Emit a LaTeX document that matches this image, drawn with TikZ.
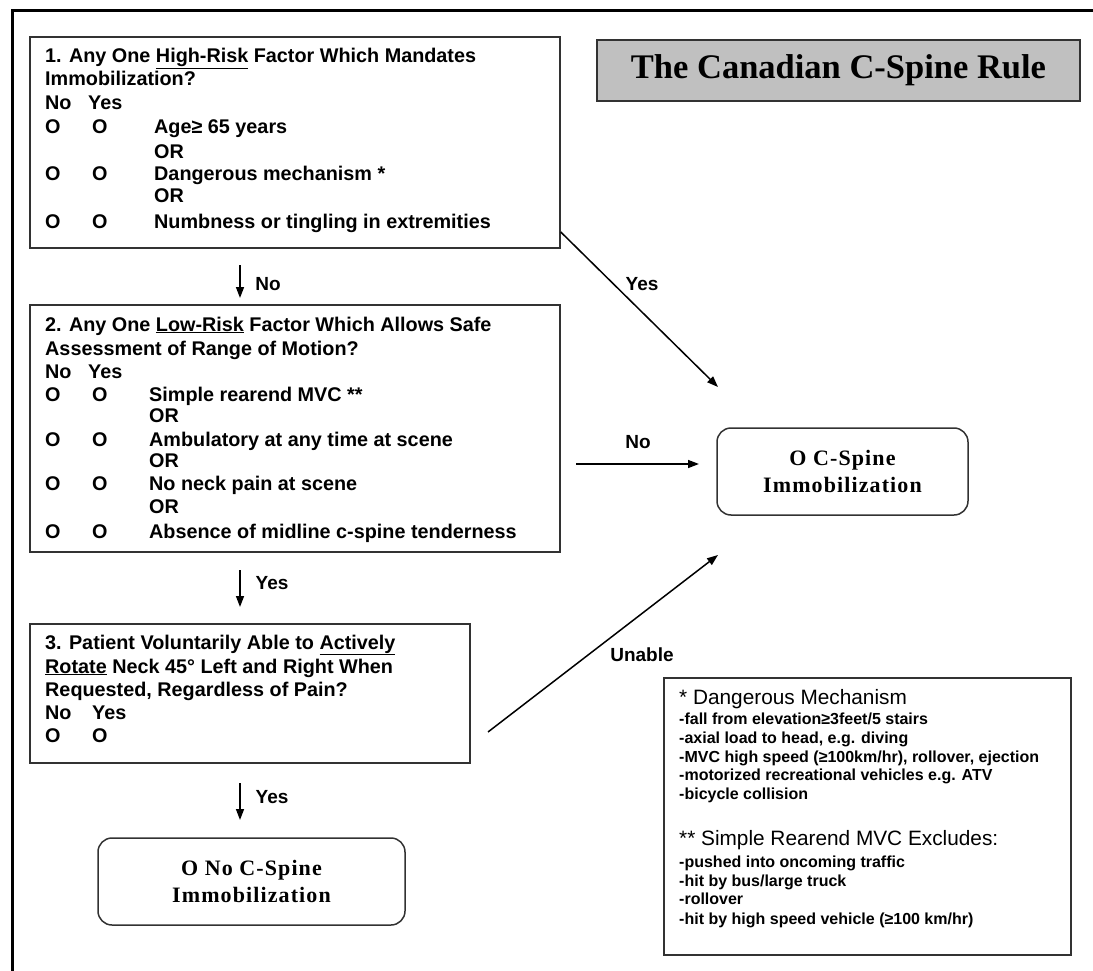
\documentclass[tikz,border=0pt]{standalone}
\usepackage{fontspec}
\setmainfont{Liberation Sans}
\newfontfamily\serifb{Liberation Serif}
\usetikzlibrary{arrows.meta}
\definecolor{titlegray}{RGB}{192,192,192}
\definecolor{edge}{RGB}{50,50,50}
\begin{document}
\begin{tikzpicture}[x=1pt,y=-1pt,
  box/.style={draw=edge, line width=1.5pt, inner sep=0pt},
  rbox/.style={box, rounded corners=14pt},
  txt/.style={anchor=base west, inner sep=0pt, font=\bfseries\fontsize{19.8}{22}\selectfont},
  lbl/.style={inner sep=0pt, font=\bfseries\fontsize{19}{22}\selectfont},
  arr/.style={line width=1.5pt, -{Triangle[length=11pt,width=8pt]}},
  lgh/.style={anchor=base west, inner sep=0pt, font=\fontsize{20.8}{24}\selectfont},
  lgi/.style={anchor=base west, inner sep=0pt, font=\bfseries\fontsize{16}{19}\selectfont},
  res/.style={rbox, align=center, font=\serifb\bfseries\fontsize{22}{26.5}\selectfont\addfontfeature{LetterSpace=5}}]
\useasboundingbox (0,0) rectangle (1093,971);
% outer frame
\draw[line width=3pt] (12,971) -- (12,11) -- (1093,11);
% title
\node[box, fill=titlegray, minimum width=483, minimum height=61,
      font=\serifb\bfseries\fontsize{34.5}{40}\selectfont] (title) at (838.5,70.5) {The Canadian C-Spine Rule};
% boxes
\node[box, minimum width=530, minimum height=211] (b1) at (295,142.5) {};
\node[box, minimum width=530, minimum height=247] (b2) at (295,428.5) {};
\node[box, minimum width=440, minimum height=139] (b3) at (250,693.5) {};
\node[res, minimum width=307, minimum height=87] (fin) at (251.5,881.5) {O No C-Spine\\Immobilization};
\node[res, minimum width=251, minimum height=87] (imm) at (842.5,471.5) {O C-Spine\\Immobilization};
\node[box, minimum width=407, minimum height=277] (leg) at (867.5,816.5) {};
% box 1 text
\node[txt] (t1a) at (45,63) {1. Any One \underline{High-Risk} Factor Which Mandates};
\node[txt] (t1b) at (45,86) {Immobilization?};
\node[txt] (t1n) at (45,110) {No};
\node[txt] (t1y) at (88,110) {Yes};
\node[txt] (t1o1) at (45,134) {O};
\node[txt] (t1p1) at (92,134) {O};
\node[txt] (t1i1) at (154,134) {Age≥ 65 years};
\node[txt] (t1r1) at (154,159) {OR};
\node[txt] (t1o2) at (45,181) {O};
\node[txt] (t1p2) at (92,181) {O};
\node[txt] (t1i2) at (154,181) {Dangerous mechanism *};
\node[txt] (t1r2) at (154,202) {OR};
\node[txt] (t1o3) at (45,229) {O};
\node[txt] (t1p3) at (92,229) {O};
\node[txt] (t1i3) at (154,229) {Numbness or tingling in extremities};
% box 2 text
\node[txt] (t2a) at (45,331) {2. Any One \underline{Low-Risk} Factor Which Allows Safe};
\node[txt] (t2b) at (45,355) {Assessment of Range of Motion?};
\node[txt] (t2n) at (45,378) {No};
\node[txt] (t2y) at (88,378) {Yes};
\node[txt] (t2o1) at (45,401) {O};
\node[txt] (t2p1) at (92,401) {O};
\node[txt] (t2i1) at (149,401) {Simple rearend MVC **};
\node[txt] (t2r1) at (149,422) {OR};
\node[txt] (t2o2) at (45,446) {O};
\node[txt] (t2p2) at (92,446) {O};
\node[txt] (t2i2) at (149,446) {Ambulatory at any time at scene};
\node[txt] (t2r2) at (149,467) {OR};
\node[txt] (t2o3) at (45,490) {O};
\node[txt] (t2p3) at (92,490) {O};
\node[txt] (t2i3) at (149,490) {No neck pain at scene};
\node[txt] (t2r3) at (149,513) {OR};
\node[txt] (t2o4) at (45,538) {O};
\node[txt] (t2p4) at (92,538) {O};
\node[txt] (t2i4) at (149,538) {Absence of midline c-spine tenderness};
% box 3 text
\node[txt] (t3a) at (45,649) {3. Patient Voluntarily Able to \underline{Actively}};
\node[txt] (t3b) at (45,673) {\underline{Rotate} Neck 45° Left and Right When};
\node[txt] (t3c) at (45,696) {Requested, Regardless of Pain?};
\node[txt] (t3n) at (45,719) {No};
\node[txt] (t3y) at (92,719) {Yes};
\node[txt] (t3o1) at (45,742) {O};
\node[txt] (t3p1) at (92,742) {O};
% legend text
\node[lgh] (l1) at (679,704) {* Dangerous Mechanism};
\node[lgi] (l1a) at (679,724) {-fall from elevation≥3feet/5 stairs};
\node[lgi] (l1b) at (679,743) {-axial load to head, e.g. diving};
\node[lgi] (l1c) at (679,762) {-MVC high speed (≥100km/hr), rollover, ejection};
\node[lgi] (l1d) at (679,780) {-motorized recreational vehicles e.g. ATV};
\node[lgi] (l1e) at (679,799) {-bicycle collision};
\node[lgh] (l2) at (679,845) {** Simple Rearend MVC Excludes:};
\node[lgi] (l2a) at (679,867) {-pushed into oncoming traffic};
\node[lgi] (l2b) at (679,886) {-hit by bus/large truck};
\node[lgi] (l2c) at (679,904) {-rollover};
\node[lgi] (l2d) at (679,924) {-hit by high speed vehicle (≥100 km/hr)};
% connector end points
\coordinate (a1s) at (240,265); \coordinate (a1e) at (240,298);
\coordinate (a2s) at (240,570); \coordinate (a2e) at (240,607);
\coordinate (a3s) at (240,783); \coordinate (a3e) at (240,820);
\coordinate (ys) at (b1.north east |- 0,232); \coordinate (ye) at (718,387);
\coordinate (ns) at (576,464); \coordinate (ne) at (699,464);
\coordinate (us) at (488,732); \coordinate (ue) at (718,555);
% connectors
\draw[arr] (a1s) -- (a1e);
\draw[arr] (a2s) -- (a2e);
\draw[arr] (a3s) -- (a3e);
\draw[arr] (ys) -- (ye);
\draw[arr] (ns) -- (ne);
\draw[arr] (us) -- (ue);
% connector labels
\node[lbl] (la1) at (268,284) {No};
\node[lbl] (la2) at (272,583) {Yes};
\node[lbl] (la3) at (272,797) {Yes};
\node[lbl] (ly) at (642,284) {Yes};
\node[lbl] (ln) at (638,442) {No};
\node[lbl] (lu) at (642,655) {Unable};
\end{tikzpicture}
\end{document}
